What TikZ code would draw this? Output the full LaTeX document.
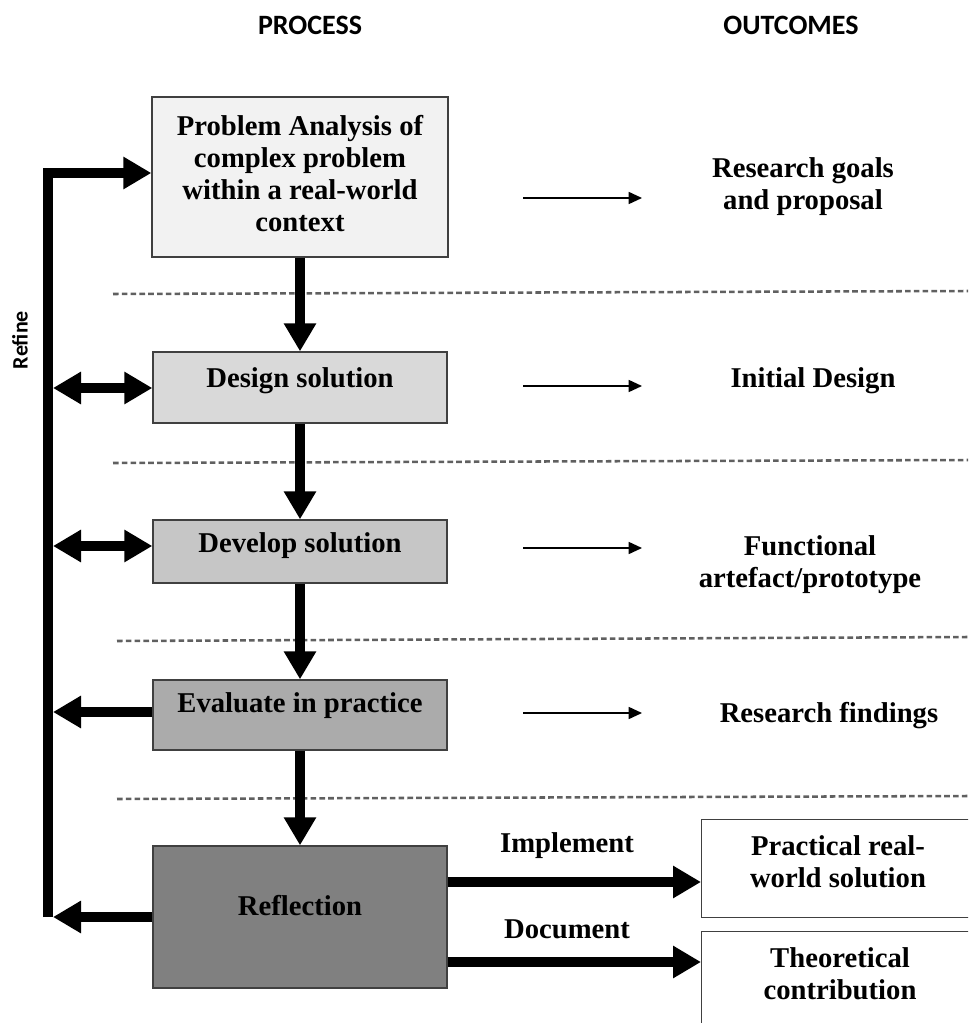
\documentclass[tikz,border=0pt]{standalone}
\usepackage{fontspec}
\setmainfont{Liberation Serif}
\newfontfamily\headfont{Carlito}
\usetikzlibrary{arrows.meta}

\definecolor{fillA}{HTML}{F2F2F2}
\definecolor{fillB}{HTML}{D9D9D9}
\definecolor{fillC}{HTML}{C6C6C6}
\definecolor{fillD}{HTML}{ABABAB}
\definecolor{fillE}{HTML}{808080}
\definecolor{edge}{HTML}{404040}
\definecolor{dashgrey}{HTML}{606060}

\tikzset{
  box/.style={draw=edge, line width=1pt, rectangle, inner sep=0pt},
  body/.style={font=\fontsize{21.5}{24}\selectfont\bfseries, align=center, inner sep=0pt},
  head/.style={font=\headfont\fontsize{21}{24}\selectfont\bfseries, inner sep=0pt},
  flow/.style={line width=7pt, -{Triangle[length=21pt,width=23pt]}},
  flowboth/.style={line width=7pt, {Triangle[length=21pt,width=23pt]}-{Triangle[length=21pt,width=23pt]}},
  thin/.style={line width=1.2pt, -{Triangle[length=10pt,width=9pt]}},
  divider/.style={draw=dashgrey, line width=1.9pt, dash pattern=on 4.2pt off 2.4pt},
}

\begin{document}
\begin{tikzpicture}[x=0.75pt,y=-0.75pt]
\useasboundingbox (0,0) rectangle (968,1023);
\clip (0,0) rectangle (968,1023);

% column headings
\node[head] (hproc) at (310,25) {PROCESS};
\node[head] (hout) at (791,25) {OUTCOMES};

% dashed dividers between the stages
\draw[divider] (113,294) -- (968,291);
\draw[divider] (113,463) -- (968,460);
\draw[divider] (117,641) -- (968,637);
\draw[divider] (117,799) -- (968,796);

% process boxes
\node[box, fill=fillA, minimum width=222pt, minimum height=120pt] (b1) at (300,177) {};
\node[box, fill=fillB, minimum width=220.5pt, minimum height=53.25pt] (b2) at (300,387.5) {};
\node[box, fill=fillC, minimum width=220.5pt, minimum height=47.25pt] (b3) at (300,551.5) {};
\node[box, fill=fillD, minimum width=220.5pt, minimum height=52.5pt] (b4) at (300,715) {};
\node[box, fill=fillE, minimum width=220.5pt, minimum height=106.5pt] (b5) at (300,917) {};

\node[body] (t1) at (300,174) {Problem Analysis of\\complex problem\\within a real-world\\context};
\node[body] (t2) at (300,381) {Design solution};
\node[body] (t3) at (300,546) {Develop solution};
\node[body] (t4) at (300,706) {Evaluate in practice};
\node[body] (t5) at (300,906) {Reflection};

% outcome boxes (running off the right and bottom edges)
\node[box, fill=white, anchor=north west, minimum width=300pt, minimum height=73.5pt] (o1) at (701,819) {};
\node[box, fill=white, anchor=north west, minimum width=300pt, minimum height=130pt] (o2) at (701,931) {};

% outcome texts
\node[body] (r1) at (803,187) {Research goals\\and proposal};
\node[body] (r2) at (813,381) {Initial Design};
\node[body] (r3) at (810,565) {Functional\\artefact/prototype};
\node[body] (r4) at (829,716) {Research findings};
\node[body] (r5) at (838,862) {Practical real-\\world solution};
\node[body] (r6) at (840,974) {Theoretical\\contribution};
\node[body] (limp) at (567,846) {Implement};
\node[body] (ldoc) at (567,929) {Document};

% downward flow between stages
\draw[flow] (b1.south) -- (b2.north);
\draw[flow] (b2.south) -- (b3.north);
\draw[flow] (b3.south) -- (b4.north);
\draw[flow] (b4.south) -- (b5.north);

% refine loop on the left
\coordinate (rtop) at (48,173);
\coordinate (rbot) at (48,917);
\draw[flow, line join=miter] (rbot) -- (rtop) -- (rtop -| b1.west);
\draw[flowboth] (53,388) -- (b2.west |- 0,388);
\draw[flowboth] (53,546) -- (b3.west |- 0,546);
\draw[flow] (b4.west |- 0,712) -- (53,712);
\draw[flow] (b5.west |- 0,917) -- (53,917);
\node[head, font=\headfont\fontsize{16.5}{18}\selectfont\bfseries, rotate=90] (refine) at (20,340) {Refine};

% thin arrows from stage to outcome
\coordinate (a1) at (523,198);
\coordinate (a2) at (523,386);
\coordinate (a3) at (523,548);
\coordinate (a4) at (523,713);
\draw[thin] (a1) -- ++(119,0);
\draw[thin] (a2) -- ++(119,0);
\draw[thin] (a3) -- ++(119,0);
\draw[thin] (a4) -- ++(119,0);

% implementation and documentation outputs
\draw[flow] (b5.east |- 0,882) -- (o1.west |- 0,882);
\draw[flow] (b5.east |- 0,962) -- (o2.west |- 0,962);
\end{tikzpicture}
\end{document}
